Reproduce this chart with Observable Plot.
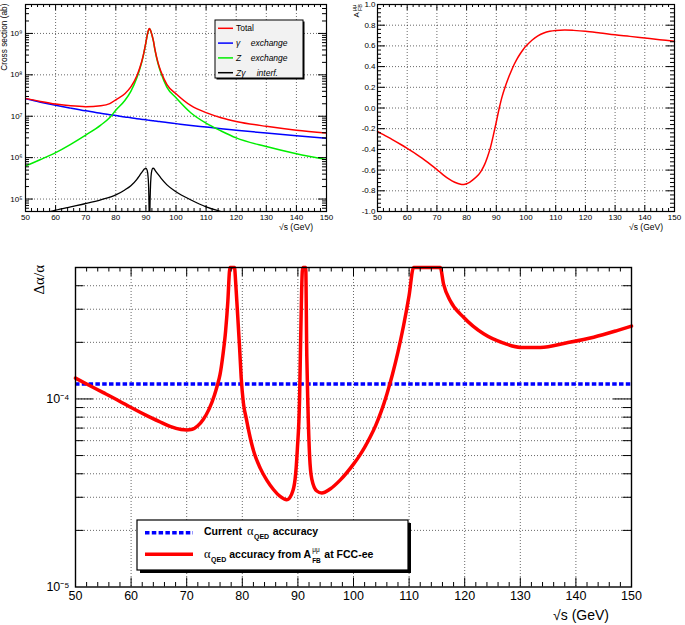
<!DOCTYPE html>
<html><head><meta charset="utf-8">
<script src="https://cdn.jsdelivr.net/npm/d3@7"></script>
<script src="https://cdn.jsdelivr.net/npm/@observablehq/plot@0.6"></script>
<style>
body{margin:0;background:#fff;}
#wrap{position:relative;width:685px;height:625px;overflow:hidden;background:#fff;}
.panel{position:absolute;}
.panel svg{overflow:visible;display:block;}
</style></head><body><div id="wrap"></div>
<script>
// ---------- data: top-left cross sections (ab) ----------
const sqrtS = [50,55,60,65,70,75,78,80,83,85,87,88,89,90,90.5,91,91.2,91.5,92,92.5,93,94,95,97,100,105,110,115,120,130,140,150];
const sigmaTotal = [2.7e7,2.28e7,1.97e7,1.78e7,1.7e7,1.79e7,2.02e7,2.5e7,3.5e7,5.1e7,9.5e7,1.5e8,2.7e8,6.1e8,9.6e8,1.27e9,1.31e9,1.21e9,9.3e8,6.6e8,4.1e8,2.0e8,1.2e8,5.8e7,3.5e7,1.8e7,1.22e7,9.2e6,7.5e6,5.7e6,4.6e6,3.95e6];
const sigmaGamma = [2.65e7,2.19e7,1.84e7,1.57e7,1.35e7,1.18e7,1.09e7,1.04e7,9.6e6,9.2e6,8.75e6,8.55e6,8.36e6,8.18e6,8.1e6,8.0e6,7.97e6,7.9e6,7.83e6,7.75e6,7.66e6,7.5e6,7.34e6,7.04e6,6.63e6,6.0e6,5.48e6,5.0e6,4.6e6,3.92e6,3.38e6,2.95e6];
const sigmaZ = [6.3e5,9.0e5,1.32e6,2.1e6,3.5e6,6.1e6,9.3e6,1.4e7,2.4e7,4.0e7,8.5e7,1.4e8,2.6e8,6.0e8,9.5e8,1.26e9,1.3e9,1.2e9,9.2e8,6.5e8,4.0e8,1.9e8,1.1e8,5.0e7,2.8e7,1.2e7,6.8e6,4.4e6,3.0e6,1.85e6,1.24e6,9.0e5];
const interfS = [50,55,60,65,70,75,80,83,85,87,88,89,89.5,90,90.4,90.7,90.9,91.05,91.15,91.25,91.35,91.5,91.7,92,92.3,92.6,93,94,95,97,100,105,110,115,120,130];
const sigmaInterf = [3.5e4,4.3e4,5.4e4,6.5e4,7.8e4,9.6e4,1.26e5,1.66e5,2.1e5,3.0e5,3.8e5,4.8e5,5.3e5,5.6e5,5.0e5,3.6e5,2.0e5,6e4,1e4,1e4,6e4,1.8e5,3.5e5,5.0e5,5.6e5,5.5e5,5.0e5,4.0e5,3.2e5,2.2e5,1.5e5,9.5e4,6.5e4,5.0e4,4.0e4,2.8e4];

// ---------- data: top-right forward-backward asymmetry ----------
const afbS = [50,52,55,58,60,63,65,68,70,72,74,76,78,79,80,81,82,84,85,86,87,88,89,90,91,92,93,94,95,96,97,98,99,100,102,104,106,108,110,113,116,120,125,130,135,140,145,150];
const afb = [-0.225,-0.258,-0.305,-0.355,-0.39,-0.445,-0.485,-0.55,-0.595,-0.643,-0.685,-0.717,-0.737,-0.739,-0.732,-0.718,-0.697,-0.645,-0.605,-0.55,-0.475,-0.385,-0.265,-0.135,0.0,0.115,0.205,0.285,0.355,0.42,0.475,0.522,0.563,0.598,0.655,0.697,0.725,0.741,0.749,0.753,0.75,0.742,0.725,0.707,0.692,0.676,0.66,0.645];

// ---------- data: bottom alpha_QED accuracy ----------
const currentAcc = 1.2e-4;
const accS = [50,52,55,58,60,63,65,67,69,70,71,72,73,74,75,75.5,76,76.5,77,77.4,77.7,77.8,78.6,78.8,79.1,79.5,79.8,80.2,80.7,81.6,82.2,83.2,84.4,85.6,86.8,88.0,88.9,89.5,89.9,90.3,90.5,90.8,90.95,91.4,91.6,91.8,92.1,92.5,93.4,94.3,95.8,97.6,100,101,102,103,104,105,106,107,108,109,110,110.8,115.6,116.2,117.4,119.8,123.4,127,130,133.6,138.4,143.2,147.4,150];
const acc = [1.29e-4,1.2e-4,1.08e-4,9.7e-5,9.0e-5,8.1e-5,7.6e-5,7.15e-5,6.88e-5,6.84e-5,6.9e-5,7.2e-5,7.8e-5,8.8e-5,1.05e-4,1.18e-4,1.35e-4,1.7e-4,2.3e-4,3.3e-4,4.8e-4,5e-4,5e-4,4.2e-4,3.0e-4,1.9e-4,1.3e-4,9.5e-5,7.9e-5,5.9e-5,5.1e-5,4.3e-5,3.7e-5,3.3e-5,3.03e-5,2.91e-5,3.13e-5,3.75e-5,5.4e-5,1.0e-4,2.1e-4,4.8e-4,5e-4,5e-4,1.7e-4,9.2e-5,5.0e-5,3.75e-5,3.24e-5,3.16e-5,3.32e-5,3.7e-5,4.5e-5,4.95e-5,5.52e-5,6.27e-5,7.24e-5,8.61e-5,1.06e-4,1.35e-4,1.78e-4,2.45e-4,3.55e-4,5e-4,5e-4,4.08e-4,3.33e-4,2.72e-4,2.22e-4,1.98e-4,1.88e-4,1.88e-4,1.99e-4,2.13e-4,2.31e-4,2.44e-4];

// ---------- tick labels ----------
const xMajor = [50,60,70,80,90,100,110,120,130,140,150];
const csDecades = [1e5,1e6,1e7,1e8,1e9];
const afbMajor = [-1,-0.8,-0.6,-0.4,-0.2,0,0.2,0.4,0.6,0.8,1];
const accLabels = [1e-5,1e-4];
const legendTop = ["Total","γ","Z","Zγ"];
const legendTopWord = ["","exchange","exchange","interf."];

// ---------- helpers ----------
const FONT = "'Liberation Sans', Arial, Helvetica, sans-serif";
const SERIF = "'Liberation Serif', 'Times New Roman', serif";
const SUP = {"0":"⁰","1":"¹","2":"²","3":"³","4":"⁴","5":"⁵","6":"⁶","7":"⁷","8":"⁸","9":"⁹","-":"⁻"};
const sup = s => String(s).split("").map(c => SUP[c] || c).join("");
const pow10 = d => "10" + sup(Math.round(Math.log10(d)));
const grid = {stroke: "#000", strokeWidth: 0.8, strokeDasharray: "1,2", strokeOpacity: 0.75};
const xMinor = d3.range(50, 151, 2).filter(v => v % 10 !== 0);
function logMinor(lo, hi) {
  const out = [];
  for (let e = -6; e <= 10; e++) for (let m = 2; m <= 9; m++) {
    const v = m * Math.pow(10, e);
    if (v > lo * 1.0001 && v < hi * 0.9999) out.push(v);
  }
  return out;
}
function xTicks(vals, len, plotH, sw = 1) {
  return [Plot.ruleX(vals, {insetTop: plotH - len, stroke: "black", strokeWidth: sw}),
          Plot.ruleX(vals, {insetBottom: plotH - len, stroke: "black", strokeWidth: sw})];
}
function yTicks(vals, len, plotW, sw = 1) {
  return [Plot.ruleY(vals, {insetRight: plotW - len, stroke: "black", strokeWidth: sw}),
          Plot.ruleY(vals, {insetLeft: plotW - len, stroke: "black", strokeWidth: sw})];
}
const wrap = document.getElementById("wrap");
function addPanel(left, top, svg) {
  const d = document.createElement("div");
  d.className = "panel"; d.style.left = left + "px"; d.style.top = top + "px";
  d.appendChild(svg); wrap.appendChild(d);
}

// ---------- top-left panel ----------
{
  const W = 340, H = 245, ml = 25, mr = 14, mt = 4, mb = 34;
  const pw = W - ml - mr, ph = H - mt - mb;
  const yMinorCS = logMinor(5e4, 5e9);
  addPanel(0, 0, Plot.plot({
    width: W, height: H, marginLeft: ml, marginRight: mr, marginTop: mt, marginBottom: mb,
    style: {fontFamily: FONT, fontSize: "8px", color: "black", background: "none"},
    x: {domain: [50, 150]},
    y: {type: "log", domain: [5e4, 5e9]},
    marks: [
      Plot.ruleX(xMajor.slice(1, -1), grid),
      Plot.ruleY(csDecades, grid),
      Plot.line(sqrtS, {x: sqrtS, y: sigmaGamma, stroke: "#0000ff", strokeWidth: 1.5, curve: "monotone-x", clip: true}),
      Plot.line(sqrtS, {x: sqrtS, y: sigmaZ, stroke: "#00ee00", strokeWidth: 1.5, curve: "monotone-x", clip: true}),
      Plot.line(interfS, {x: interfS, y: sigmaInterf, stroke: "#000", strokeWidth: 1.3, curve: "monotone-x", clip: true}),
      Plot.line(sqrtS, {x: sqrtS, y: sigmaTotal, stroke: "#ff0000", strokeWidth: 1.5, curve: "monotone-x", clip: true}),
      ...xTicks(xMajor, 6, ph), ...xTicks(xMinor, 3, ph),
      ...yTicks(csDecades, 8, pw), ...yTicks(yMinorCS, 4, pw),
      Plot.frame({stroke: "black", strokeWidth: 1.2}),
      Plot.axisX({ticks: xMajor, tickSize: 0, tickPadding: 3, tickFormat: d => String(d), label: null}),
      Plot.axisY({ticks: csDecades, tickSize: 0, tickPadding: 3, tickFormat: pow10, label: null})
    ]
  }));
}

// ---------- top-right panel ----------
{
  const W = 345, H = 245, ml = 37, mr = 11, mt = 4, mb = 34;
  const pw = W - ml - mr, ph = H - mt - mb;
  const yMinorA = d3.range(-1, 1.0001, 0.04).map(v => Math.round(v * 100) / 100).filter(v => Math.abs(Math.round(v * 5) - v * 5) > 1e-6);
  addPanel(340, 0, Plot.plot({
    width: W, height: H, marginLeft: ml, marginRight: mr, marginTop: mt, marginBottom: mb,
    style: {fontFamily: FONT, fontSize: "8px", color: "black", background: "none"},
    x: {domain: [50, 150]},
    y: {domain: [-1, 1]},
    marks: [
      Plot.ruleX(xMajor.slice(1, -1), grid),
      Plot.ruleY(afbMajor.slice(1, -1), grid),
      Plot.line(afbS, {x: afbS, y: afb, stroke: "#ff0000", strokeWidth: 1.5, curve: "catmull-rom"}),
      ...xTicks(xMajor, 6, ph), ...xTicks(xMinor, 3, ph),
      ...yTicks(afbMajor, 8, pw), ...yTicks(yMinorA, 4, pw),
      Plot.frame({stroke: "black", strokeWidth: 1.2}),
      Plot.axisX({ticks: xMajor, tickSize: 0, tickPadding: 3, tickFormat: d => String(d), label: null}),
      Plot.axisY({ticks: afbMajor, tickSize: 0, tickPadding: 2, tickFormat: d => d.toFixed(1), label: null})
    ]
  }));
}

// ---------- bottom panel ----------
{
  const W = 685, H = 380, ml = 75, mr = 54, mt = 22, mb = 38.5;
  const pw = W - ml - mr, ph = H - mt - mb;
  const yMinorAcc = logMinor(1e-5, 5e-4);
  addPanel(0, 245, Plot.plot({
    width: W, height: H, marginLeft: ml, marginRight: mr, marginTop: mt, marginBottom: mb,
    style: {fontFamily: FONT, fontSize: "12.5px", color: "black", background: "none"},
    x: {domain: [50, 150]},
    y: {type: "log", domain: [1e-5, 5e-4]},
    marks: [
      Plot.ruleX(xMajor.slice(1, -1), grid),
      Plot.ruleY([...yMinorAcc, 1e-4], grid),
      Plot.ruleY([currentAcc], {stroke: "#0000ff", strokeWidth: 3.5, strokeDasharray: "4.5,2.3"}),
      Plot.line(accS, {x: accS, y: acc, stroke: "#ff0000", strokeWidth: 3.5, curve: "monotone-x"}),
      ...xTicks(xMajor, 9, ph), ...xTicks(xMinor, 4.5, ph),
      ...yTicks([1e-4], 18, pw), ...yTicks(yMinorAcc, 8.5, pw),
      Plot.frame({stroke: "black", strokeWidth: 1.4}),
      Plot.axisX({ticks: xMajor, tickSize: 0, tickPadding: 4, tickFormat: d => String(d), label: null}),
      Plot.axisY({ticks: accLabels, tickSize: 0, tickPadding: 6, tickFormat: pow10, label: null})
    ]
  }));
}

// ---------- overlay: axis titles and legends ----------
const ov = d3.select(wrap).append("svg")
  .attr("width", 685).attr("height", 625)
  .style("position", "absolute").style("left", "0px").style("top", "0px")
  .style("overflow", "visible");

ov.append("text").attr("transform", "translate(7.3,3.5) rotate(-90)")
  .attr("text-anchor", "end").attr("font-family", FONT).attr("font-size", 8.3).text("Cross section (ab)");
ov.append("text").attr("x", 313).attr("y", 230).attr("text-anchor", "end")
  .attr("font-family", FONT).attr("font-size", 8.5).text("√s (GeV)");
ov.append("text").attr("x", 663).attr("y", 230).attr("text-anchor", "end")
  .attr("font-family", FONT).attr("font-size", 8.5).text("√s (GeV)");
// A_FB^mumu label (rotated)
ov.append("text").attr("transform", "translate(359,17.5) rotate(-90)")
  .attr("font-family", FONT).attr("font-size", 8).text("A");
ov.append("text").attr("transform", "translate(355.5,11) rotate(-90)")
  .attr("font-family", FONT).attr("font-size", 5.5).text("μμ");
ov.append("text").attr("transform", "translate(361.5,11) rotate(-90)")
  .attr("font-family", FONT).attr("font-size", 5.5).text("FB");
// bottom axis titles
ov.append("text").attr("transform", "translate(43.5,265) rotate(-90)")
  .attr("text-anchor", "end").attr("font-family", SERIF).attr("font-size", 15).text("Δα/α");
ov.append("text").attr("x", 609).attr("y", 620).attr("text-anchor", "end")
  .attr("font-family", FONT).attr("font-size", 14).text("√s (GeV)");

// top-left legend
{
  const lx = 215, ly = 20, lw = 88, lh = 58;
  ov.append("rect").attr("x", lx + 1.5).attr("y", ly + 1.5).attr("width", lw).attr("height", lh).attr("fill", "#000");
  ov.append("rect").attr("x", lx).attr("y", ly).attr("width", lw).attr("height", lh)
    .attr("fill", "#f2f2f2").attr("stroke", "#000").attr("stroke-width", 1);
  const colors = ["#ff0000", "#0000ff", "#00ee00", "#000"];
  const rows = [28.3, 43.1, 57.9, 72.7];
  const wordX = [0, 250.7, 250.7, 256.7];
  legendTop.forEach((lab, i) => {
    ov.append("line").attr("x1", 218).attr("x2", 233).attr("y1", rows[i]).attr("y2", rows[i])
      .attr("stroke", colors[i]).attr("stroke-width", 1.5);
    ov.append("text").attr("x", 236).attr("y", rows[i] + 3).attr("font-family", FONT)
      .attr("font-size", 8.5).attr("font-style", i === 0 ? "normal" : "italic").text(lab);
    if (legendTopWord[i]) ov.append("text").attr("x", wordX[i]).attr("y", rows[i] + 3).attr("font-family", FONT)
      .attr("font-size", 8.5).attr("font-style", "italic").text(legendTopWord[i]);
  });
}

// bottom legend
{
  const lx = 137, ly = 520, lw = 271, lh = 50;
  ov.append("rect").attr("x", lx + 3).attr("y", ly + 3).attr("width", lw).attr("height", lh).attr("fill", "#000");
  ov.append("rect").attr("x", lx).attr("y", ly).attr("width", lw).attr("height", lh)
    .attr("fill", "#fff").attr("stroke", "#000").attr("stroke-width", 1.2);
  ov.append("line").attr("x1", 145).attr("x2", 193).attr("y1", 532.7).attr("y2", 532.7)
    .attr("stroke", "#0000ff").attr("stroke-width", 3.5).attr("stroke-dasharray", "4.5,2.3");
  ov.append("line").attr("x1", 145).attr("x2", 193).attr("y1", 554.3).attr("y2", 554.3)
    .attr("stroke", "#ff0000").attr("stroke-width", 3.5);
  const FS = 10.5;
  // sequential layout: each piece placed after the measured end of the previous
  function row(y, pieces) {
    let x = 204;
    pieces.forEach(p => {
      const t = ov.append("text").attr("x", x + (p.gap || 0)).attr("y", y + (p.dy || 0))
        .attr("font-family", p.serif ? SERIF : FONT)
        .attr("font-weight", p.bold === false ? "normal" : "bold")
        .attr("font-size", p.size || FS).text(p.t);
      const w = t.node().getComputedTextLength();
      if (!p.stack) x = x + (p.gap || 0) + w;
    });
  }
  row(534.5, [
    {t: "Current"},
    {t: "α", serif: true, bold: false, size: 12.5, gap: 5},
    {t: "QED", size: 7, dy: 4, gap: 0.5},
    {t: "accuracy", gap: 3.5}
  ]);
  row(557.8, [
    {t: "α", serif: true, bold: false, size: 12.5},
    {t: "QED", size: 7, dy: 4.5, gap: 0.5},
    {t: "accuracy from A", gap: 3},
    {t: "μμ", size: 6.5, bold: false, dy: -6, gap: 1, stack: true},
    {t: "FB", size: 6.5, dy: 5, gap: 1},
    {t: "at FCC-ee", gap: 3.5}
  ]);
}
</script></body></html>
